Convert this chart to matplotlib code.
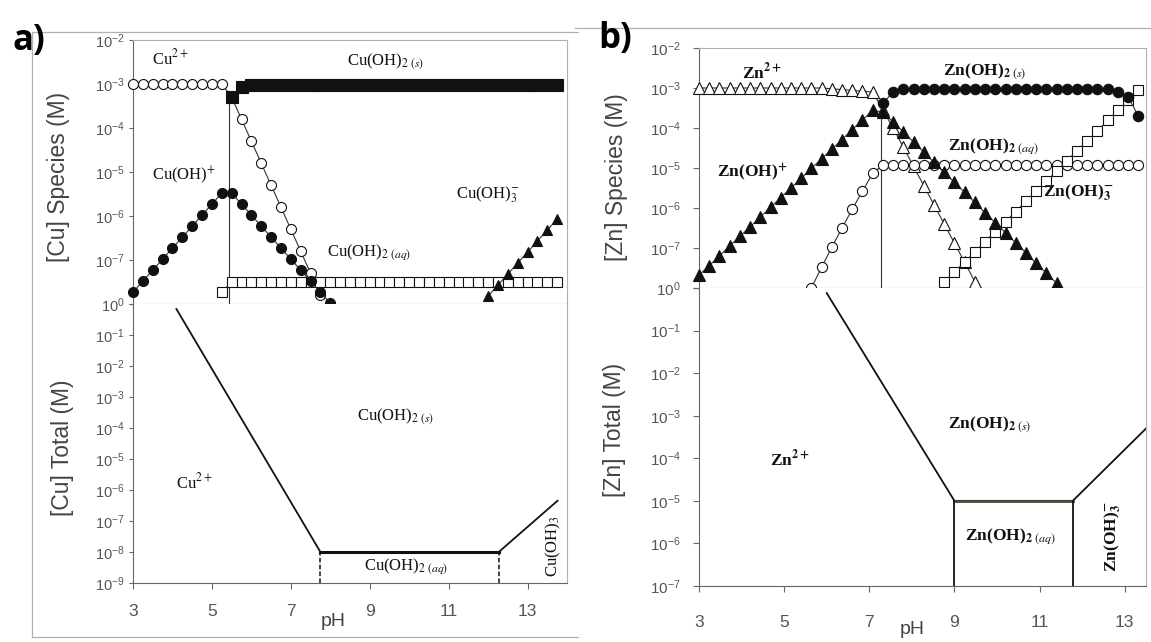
import numpy as np
import matplotlib.pyplot as plt
from matplotlib.ticker import NullLocator
from matplotlib.lines import Line2D

plt.rcParams['font.family'] = 'Liberation Sans'
plt.rcParams['mathtext.fontset'] = 'custom'
plt.rcParams['mathtext.rm'] = 'Liberation Sans'
plt.rcParams['mathtext.it'] = 'Liberation Sans:italic'
plt.rcParams['mathtext.bf'] = 'Liberation Sans:bold'

# ---------------- data (log10 of molar conc) ----------------
# Cu species, pH step 0.25
cu2_ph = [3.0, 3.25, 3.5, 3.75, 4.0, 4.25, 4.5, 4.75, 5.0, 5.25, 5.5, 5.75, 6.0, 6.25,
          6.5, 6.75, 7.0, 7.25, 7.5, 7.75]
cu2_log = [-3.0, -3.0, -3.0, -3.0, -3.0, -3.0, -3.0, -3.0, -3.0, -3.0, -3.3, -3.8, -4.3,
           -4.8, -5.3, -5.8, -6.3, -6.8, -7.3, -7.8]

cuoh_ph = [3.0, 3.25, 3.5, 3.75, 4.0, 4.25, 4.5, 4.75, 5.0, 5.25, 5.5, 5.75, 6.0, 6.25,
           6.5, 6.75, 7.0, 7.25, 7.5, 7.75, 8.0]
cuoh_log = [-7.73, -7.48, -7.23, -6.98, -6.73, -6.48, -6.23, -5.98, -5.73, -5.48, -5.48,
            -5.73, -5.98, -6.23, -6.48, -6.73, -6.98, -7.23, -7.48, -7.73, -7.98]

cuoh2s_ph = [5.5, 5.75, 6.0, 6.25, 6.5, 6.75, 7.0, 7.25, 7.5, 7.75, 8.0, 8.25, 8.5, 8.75,
             9.0, 9.25, 9.5, 9.75, 10.0, 10.25, 10.5, 10.75, 11.0, 11.25, 11.5, 11.75,
             12.0, 12.25, 12.5, 12.75, 13.0, 13.25, 13.5, 13.75]
cuoh2s_log = [-3.3, -3.07] + [-3.02] * 32

cuoh2aq_ph = [5.25] + cuoh2s_ph
cuoh2aq_log = [-7.73] + [-7.5] * 34

cuoh3_ph = [12.0, 12.25, 12.5, 12.75, 13.0, 13.25, 13.5, 13.75]
cuoh3_log = [-7.82, -7.57, -7.32, -7.07, -6.82, -6.57, -6.32, -6.07]

cu_edge_ph = [5.44, 5.44]
cu_edge_conc = [1e-8, 5e-4]

# Cu total (predominance boundaries)
cu_bound_ph = [4.1, 7.75, 12.27, 13.76]
cu_bound_conc = [0.69, 1e-8, 1e-8, 4.5e-7]
cu_wall_ph = [7.75, 12.27]
cu_wall_conc = [1e-9, 1e-8]

# Zn species, pH step 0.24
zn_ph = [3.0, 3.24, 3.48, 3.72, 3.96, 4.2, 4.44, 4.68, 4.92, 5.16, 5.4, 5.64, 5.88, 6.12,
         6.36, 6.6, 6.84, 7.08, 7.32, 7.56, 7.8, 8.04, 8.28, 8.52, 8.76, 9.0, 9.24, 9.48,
         9.72, 9.96, 10.2, 10.44, 10.68, 10.92, 11.16, 11.4, 11.64, 11.88, 12.12, 12.36,
         12.6, 12.84, 13.08, 13.32]

zn2_log = [-3.0] * 13 + [-3.02, -3.04, -3.06, -3.08, -3.1, -3.55, -4.0, -4.48, -4.96,
                         -5.44, -5.92, -6.4, -6.88, -7.36, -7.84]
znoh_log = [-7.68, -7.44, -7.2, -6.95, -6.71, -6.47, -6.23, -5.98, -5.74, -5.5, -5.26,
            -5.01, -4.77, -4.53, -4.29, -4.04, -3.8, -3.56, -3.6, -3.85, -4.1, -4.35,
            -4.6, -4.86, -5.11, -5.36, -5.61, -5.86, -6.12, -6.37, -6.62, -6.87, -7.12,
            -7.38, -7.63, -7.88]
znoh2s_start = 18
znoh2s_log = [-3.38, -3.1] + [-3.03] * 21 + [-3.1, -3.22, -3.7]
znoh2aq_start = 11
znoh2aq_log = [-8.0, -7.48, -6.98, -6.5, -6.03, -5.58, -5.13] + [-4.93] * 26
znoh3_start = 24
znoh3_log = [-7.85, -7.6, -7.35, -7.1, -6.84, -6.59, -6.34, -6.09, -5.83, -5.58, -5.33,
             -5.08, -4.82, -4.57, -4.32, -4.07, -3.81, -3.56, -3.31, -3.05]

zn_edge_ph = [7.28, 7.28]
zn_edge_conc = [1e-8, 4.2e-4]

zn_bound_ph = [6.0, 9.0, 11.78, 13.5]
zn_bound_conc = [0.76, 1e-5, 1e-5, 5e-4]
zn_wall_ph = [9.0, 11.78]
zn_wall_conc = [1e-7, 1e-5]

ph_ticks = [3, 5, 7, 9, 11, 13]
top_ticks = [1e-8, 1e-7, 1e-6, 1e-5, 1e-4, 1e-3, 1e-2]
top_labels = ['10$^{0}$', '10$^{-7}$', '10$^{-6}$', '10$^{-5}$', '10$^{-4}$',
              '10$^{-3}$', '10$^{-2}$']

# ---------------- figure ----------------
W, H = 1151, 642
fig = plt.figure(figsize=(W / 100, H / 100), dpi=100)


def axes_px(x0, y0, x1, y1):
    return fig.add_axes([x0 / W, 1 - y1 / H, (x1 - x0) / W, (y1 - y0) / H])


def line_px(xs, ys, color='#b0b0b0', lw=0.9):
    fig.add_artist(Line2D([x / W for x in xs], [1 - y / H for y in ys],
                          transform=fig.transFigure, color=color, lw=lw))


def style(ax, top, ticklen, pad, ysize):
    ax.yaxis.set_minor_locator(NullLocator())
    ax.set_xticks(ph_ticks)
    ax.tick_params(axis='y', direction='out', length=ticklen, width=0.8, pad=pad,
                   labelsize=ysize, labelcolor='#555555', color='#666666')
    ax.tick_params(axis='x', direction='out', length=4, width=0.8, pad=pad + 8,
                   labelsize=12.5, labelcolor='#555555', color='#666666')
    ax.spines['left'].set_color('#666666')
    ax.spines['right'].set_color('#b0b0b0')
    if top:
        ax.spines['top'].set_color('#b0b0b0')
        ax.spines['bottom'].set_color('#777777')
        ax.tick_params(axis='x', labelbottom=False, length=3)
    else:
        ax.spines['top'].set_visible(False)
        ax.spines['bottom'].set_color('#666666')


def species(ax, x, y, s, bold=False, size=12, **kw):
    ax.text(x, y, s, fontfamily='Liberation Serif', math_fontfamily='stix',
            fontweight='bold' if bold else 'normal', fontsize=size, color='#111111',
            va='center', **kw)


def series(ax, ph, logc, marker, filled, ms, z=3):
    ax.plot(ph, 10 ** np.array(logc), color='#333333', lw=0.8, marker=marker, ms=ms,
            mfc='#111111' if filled else 'white', mec='#111111', mew=0.8,
            clip_on=False, zorder=z)


# ---------- panel a ----------
a_top = axes_px(133, 40, 567, 304)
a_bot = axes_px(133, 304, 567, 583)

a_top.plot(cu_edge_ph, cu_edge_conc, color='#333333', lw=0.8)
series(a_top, cu2_ph, cu2_log, 'o', False, 7.2, 3)
series(a_top, cuoh2aq_ph, cuoh2aq_log, 's', False, 6.8, 3)
series(a_top, cuoh_ph, cuoh_log, 'o', True, 7.2, 4)
series(a_top, cuoh2s_ph, cuoh2s_log, 's', True, 8.5, 4)
series(a_top, cuoh3_ph, cuoh3_log, '^', True, 7.5, 4)
a_top.set_yscale('log')
a_top.set_xlim(3, 14)
a_top.set_ylim(1e-8, 1e-2)
a_top.set_yticks(top_ticks)
a_top.set_yticklabels(top_labels)
style(a_top, True, 3, 3, 10.5)

species(a_top, 3.48, 3.9e-3, 'Cu$^{2+}$')
species(a_top, 8.43, 3.2e-3, 'Cu(OH)$_{2\\ (s)}$')
species(a_top, 3.48, 8.5e-6, 'Cu(OH)$^{+}$')
species(a_top, 7.92, 1.45e-7, 'Cu(OH)$_{2\\ (aq)}$')
species(a_top, 11.18, 3.0e-6, 'Cu(OH)$_{3}^{-}$')

a_bot.plot(cu_bound_ph, cu_bound_conc, color='#111111', lw=1.3)
a_bot.plot(cu_bound_ph[1:3], cu_bound_conc[1:3], color='#111111', lw=2.2)
for p in cu_wall_ph:
    a_bot.plot([p, p], cu_wall_conc, color='#111111', lw=1.1, ls=(0, (3, 1.5)))
a_bot.set_yscale('log')
a_bot.set_xlim(3, 14)
a_bot.set_ylim(1e-9, 1)
a_bot.set_yticks([1e-9, 1e-8, 1e-7, 1e-6, 1e-5, 1e-4, 1e-3, 1e-2, 1e-1, 1])
a_bot.set_yticklabels(['10$^{-%d}$' % k for k in range(9, 0, -1)] + [''])
style(a_bot, False, 3, 3, 10.5)

species(a_bot, 8.68, 2.2e-4, 'Cu(OH)$_{2\\ (s)}$')
species(a_bot, 4.09, 1.7e-6, 'Cu$^{2+}$')
species(a_bot, 8.86, 3.3e-9, 'Cu(OH)$_{2\\ (aq)}$')
species(a_bot, 13.66, 1.6e-8, 'Cu(OH)$_{3}$', rotation=90, ha='center')

fig.text(58 / W, 1 - 177 / H, '[Cu] Species (M)', rotation=90, ha='center',
         va='center', fontsize=16.5, color='#444444')
fig.text(63 / W, 1 - 448 / H, '[Cu] Total (M)', rotation=90, ha='center',
         va='center', fontsize=16.5, color='#444444')
fig.text(333 / W, 1 - 622 / H, 'pH', ha='center', va='center', fontsize=14,
         color='#444444')
fig.text(12 / W, 1 - 50 / H, 'a)', fontfamily='Open Sans', fontweight='bold',
         fontsize=25, ha='left', va='baseline')

# ---------- panel b ----------
b_top = axes_px(699, 48, 1146, 288)
b_bot = axes_px(699, 288, 1146, 586)

b_top.plot(zn_edge_ph, zn_edge_conc, color='#333333', lw=0.8)
series(b_top, zn_ph[:len(zn2_log)], zn2_log, '^', False, 8, 3)
series(b_top, zn_ph[znoh2aq_start:znoh2aq_start + len(znoh2aq_log)], znoh2aq_log,
       'o', False, 7.3, 3)
series(b_top, zn_ph[znoh3_start:znoh3_start + len(znoh3_log)], znoh3_log,
       's', False, 7.5, 3)
series(b_top, zn_ph[:len(znoh_log)], znoh_log, '^', True, 8, 4)
series(b_top, zn_ph[znoh2s_start:znoh2s_start + len(znoh2s_log)], znoh2s_log,
       'o', True, 7.5, 4)
b_top.set_yscale('log')
b_top.set_xlim(3, 13.5)
b_top.set_ylim(1e-8, 1e-2)
b_top.set_yticks(top_ticks)
b_top.set_yticklabels(top_labels)
style(b_top, True, 4, 9, 11)

species(b_top, 4.01, 2.5e-3, 'Zn$^{\\mathbf{2+}}$', bold=True, size=12.5)
species(b_top, 3.42, 7.9e-6, 'Zn(OH)$^{\\mathbf{+}}$', bold=True, size=12.5)
species(b_top, 8.72, 2.5e-3, 'Zn(OH)$_{\\mathbf{2}\\ (s)}$', bold=True, size=12.5)
species(b_top, 8.86, 3.3e-5, 'Zn(OH)$_{\\mathbf{2}\\ (aq)}$', bold=True, size=12.5)
species(b_top, 11.09, 2.4e-6, 'Zn(OH)$_{\\mathbf{3}}^{\\mathbf{-}}$', bold=True, size=12.5)

b_bot.plot(zn_bound_ph, zn_bound_conc, color='#111111', lw=1.3)
b_bot.plot(zn_bound_ph[1:3], zn_bound_conc[1:3], color='#4a4a3a', lw=2.0)
for p in zn_wall_ph:
    b_bot.plot([p, p], zn_wall_conc, color='#111111', lw=1.3)
b_bot.set_yscale('log')
b_bot.set_xlim(3, 13.5)
b_bot.set_ylim(1e-7, 1)
b_bot.set_yticks([1e-7, 1e-6, 1e-5, 1e-4, 1e-3, 1e-2, 1e-1, 1])
b_bot.set_yticklabels(['10$^{-%d}$' % k for k in range(7, 0, -1)] + [''])
style(b_bot, False, 4, 9, 11)

species(b_bot, 8.84, 6e-4, 'Zn(OH)$_{\\mathbf{2}\\ (s)}$', bold=True, size=12.5)
species(b_bot, 4.67, 9.5e-5, 'Zn$^{\\mathbf{2+}}$', bold=True, size=12.5)
species(b_bot, 9.26, 1.4e-6, 'Zn(OH)$_{\\mathbf{2}\\ (aq)}$', bold=True, size=12.5)
species(b_bot, 12.72, 1.4e-6, 'Zn(OH)$_{\\mathbf{3}}^{\\mathbf{-}}$', bold=True,
        size=12.5, rotation=90, ha='center')

fig.text(617 / W, 1 - 177 / H, '[Zn] Species (M)', rotation=90, ha='center',
         va='center', fontsize=16.5, color='#444444')
fig.text(615 / W, 1 - 430 / H, '[Zn] Total (M)', rotation=90, ha='center',
         va='center', fontsize=16.5, color='#444444')
fig.text(912 / W, 1 - 630 / H, 'pH', ha='center', va='center', fontsize=14,
         color='#444444')
fig.text(598 / W, 1 - 48 / H, 'b)', fontfamily='Open Sans', fontweight='bold',
         fontsize=25, ha='left', va='baseline')

# image borders of the two original panels
line_px([32, 578], [32, 32])
line_px([32, 32], [32, 637])
line_px([32, 578], [637, 637])
line_px([575, 1151], [28, 28])

fig.savefig('out.png', dpi=100)
